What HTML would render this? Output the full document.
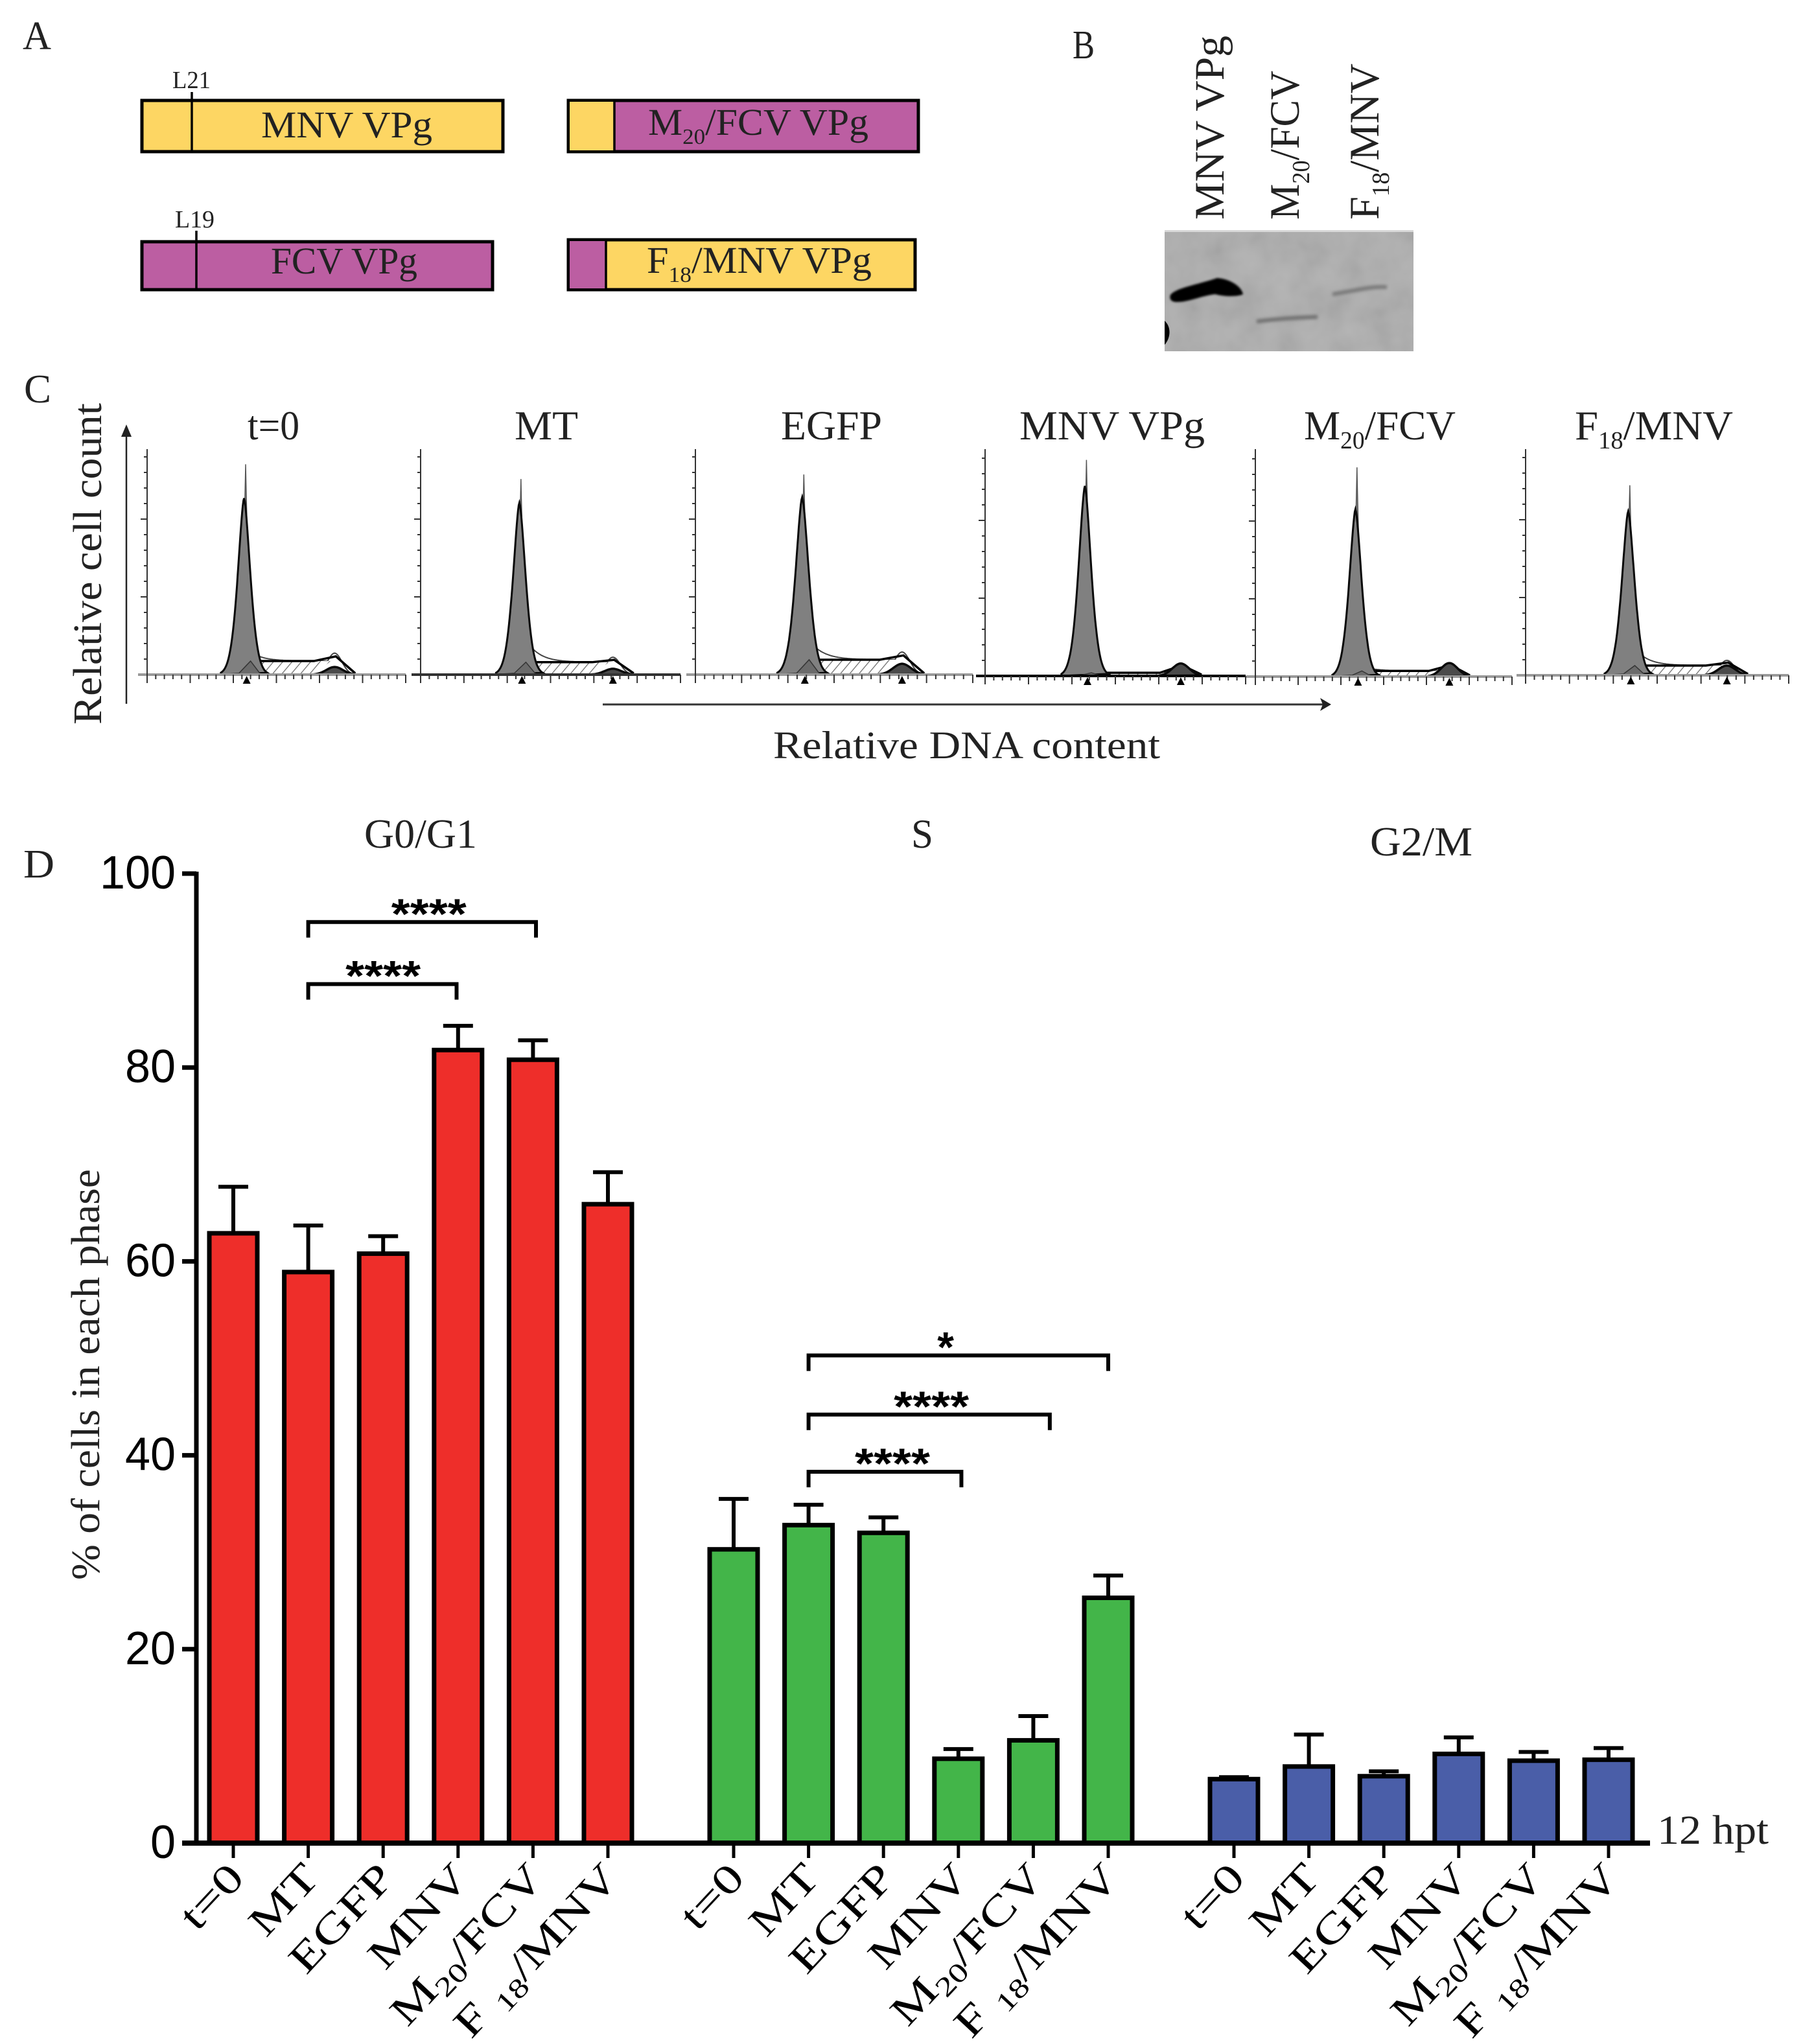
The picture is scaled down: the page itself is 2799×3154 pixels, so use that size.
<!DOCTYPE html>
<html lang="en">
<head>
<meta charset="utf-8">
<title>Multi-panel VPg figure</title>
<style>
html,body{margin:0;padding:0;background:#fff;}
svg{display:block;}
text{font-family:"Liberation Serif",serif;fill:#222;}
.sans{font-family:"Liberation Sans",sans-serif;fill:#000;}
</style>
</head>
<body>
<svg id="fig" xmlns="http://www.w3.org/2000/svg" width="2799" height="3154" viewBox="0 0 2799 3154">
<defs>
<pattern id="hatch" width="11" height="11" patternUnits="userSpaceOnUse" patternTransform="rotate(40)">
<rect width="11" height="11" fill="#fff"/>
<line x1="0" y1="0" x2="0" y2="11" stroke="#666" stroke-width="2.4"/>
</pattern>
<filter id="soft" x="-20%" y="-100%" width="140%" height="300%"><feGaussianBlur stdDeviation="2.5"/></filter>
<filter id="softer" x="-20%" y="-100%" width="140%" height="300%"><feGaussianBlur stdDeviation="1.5"/></filter>
<filter id="mottle" x="0" y="0" width="100%" height="100%">
<feTurbulence type="fractalNoise" baseFrequency="0.02" numOctaves="3" seed="4"/>
<feColorMatrix type="matrix" values="1 0 0 0 0 1 0 0 0 0 1 0 0 0 0 0 0 0 0 1"/>
</filter>
</defs>

<!-- Panel A -->
<g>
<text x="35" y="76" font-size="62" textLength="44" lengthAdjust="spacingAndGlyphs">A</text>
<g>
<rect x="219" y="155" width="557" height="79" fill="#FDD663" stroke="#000" stroke-width="5"/>
<line x1="296" y1="142" x2="296" y2="235" stroke="#000" stroke-width="3.5"/>
<text x="266" y="136" font-size="38" textLength="59" lengthAdjust="spacingAndGlyphs">L21</text>
<text x="403" y="212" font-size="58" textLength="264" lengthAdjust="spacingAndGlyphs">MNV VPg</text>
</g>
<g>
<rect x="877" y="155" width="540" height="79" fill="#BC5EA2" stroke="#000" stroke-width="5"/>
<rect x="879" y="157" width="69" height="75" fill="#FDD663"/>
<line x1="948" y1="154" x2="948" y2="235" stroke="#000" stroke-width="3.5"/>
<text x="1000" y="208" font-size="58" textLength="340" lengthAdjust="spacingAndGlyphs">M<tspan font-size="34" dy="14">20</tspan><tspan dy="-14">/FCV VPg</tspan></text>
</g>
<g>
<rect x="219" y="373" width="541" height="74" fill="#BC5EA2" stroke="#000" stroke-width="5"/>
<line x1="303" y1="356" x2="303" y2="447" stroke="#000" stroke-width="3.5"/>
<text x="270" y="351" font-size="38" textLength="61" lengthAdjust="spacingAndGlyphs">L19</text>
<text x="418" y="422" font-size="58" textLength="226" lengthAdjust="spacingAndGlyphs">FCV VPg</text>
</g>
<g>
<rect x="877" y="370" width="535" height="77" fill="#FDD663" stroke="#000" stroke-width="5"/>
<rect x="879" y="372" width="56" height="73" fill="#BC5EA2"/>
<line x1="935" y1="369" x2="935" y2="448" stroke="#000" stroke-width="3.5"/>
<text x="998" y="421" font-size="58" textLength="347" lengthAdjust="spacingAndGlyphs">F<tspan font-size="34" dy="14">18</tspan><tspan dy="-14">/MNV VPg</tspan></text>
</g>
</g>

<!-- Panel B -->
<g>
<text x="1655" y="90" font-size="62" textLength="34" lengthAdjust="spacingAndGlyphs">B</text>
<text transform="translate(1888,339) rotate(-90)" font-size="65" textLength="284" lengthAdjust="spacingAndGlyphs">MNV VPg</text>
<text transform="translate(2004,339) rotate(-90)" font-size="65" textLength="230" lengthAdjust="spacingAndGlyphs">M<tspan font-size="38" dy="16">20</tspan><tspan dy="-16">/FCV</tspan></text>
<text transform="translate(2127,339) rotate(-90)" font-size="65" textLength="241" lengthAdjust="spacingAndGlyphs">F<tspan font-size="38" dy="16">18</tspan><tspan dy="-16">/MNV</tspan></text>
<g>
<rect x="1797" y="355" width="384" height="187" fill="#adadad"/>
<rect x="1797" y="355" width="384" height="187" filter="url(#mottle)" opacity="0.12"/>
<rect x="1797" y="355" width="384" height="3" fill="#d8d8d8"/>
<path d="M1806 455 C1815 444 1845 440 1878 429 C1895 430 1915 440 1918 454 C1910 458 1890 458 1875 454 C1855 456 1835 466 1816 466 C1806 466 1804 460 1806 455Z" fill="#050505" filter="url(#softer)"/>
<path d="M1939 496 C1970 492 2000 490 2033 489" fill="none" stroke="#707070" stroke-width="6" filter="url(#soft)"/>
<path d="M2056 454 C2085 450 2115 441 2140 443" fill="none" stroke="#787878" stroke-width="6" filter="url(#soft)"/>
<path d="M1797 495 C1808 505 1806 522 1797 532Z" fill="#000"/>
</g>
</g>

<!-- Panel C static text -->
<g>
<text x="37" y="621" font-size="62" textLength="42" lengthAdjust="spacingAndGlyphs">C</text>
<text transform="translate(156,1118) rotate(-90)" font-size="62" textLength="496" lengthAdjust="spacingAndGlyphs">Relative cell count</text>
<g>
<line x1="195" y1="1086" x2="195" y2="665" stroke="#222" stroke-width="2.5"/>
<path d="M195 655 L187 674 L203 674Z" fill="#222"/>
</g>
<g>
<line x1="930" y1="1087" x2="2044" y2="1087" stroke="#333" stroke-width="3"/>
<path d="M2054 1087 L2037 1077 L2041 1087 L2037 1097Z" fill="#222"/>
</g>
<text x="1193" y="1170" font-size="60" textLength="597" lengthAdjust="spacingAndGlyphs">Relative DNA content</text>
<text x="382" y="678" font-size="64" textLength="80" lengthAdjust="spacingAndGlyphs">t=0</text>
<text x="794" y="678" font-size="64" textLength="98" lengthAdjust="spacingAndGlyphs">MT</text>
<text x="1205" y="678" font-size="64" textLength="156" lengthAdjust="spacingAndGlyphs">EGFP</text>
<text x="1573" y="678" font-size="64" textLength="286" lengthAdjust="spacingAndGlyphs">MNV VPg</text>
<text x="2012" y="678" font-size="64" textLength="234" lengthAdjust="spacingAndGlyphs">M<tspan font-size="38" dy="14">20</tspan><tspan dy="-14">/FCV</tspan></text>
<text x="2430" y="678" font-size="64" textLength="244" lengthAdjust="spacingAndGlyphs">F<tspan font-size="38" dy="14">18</tspan><tspan dy="-14">/MNV</tspan></text>
</g>
<g id="histograms"></g>

<!-- Panel D static text -->
<g>
<text x="36" y="1354" font-size="62" textLength="48" lengthAdjust="spacingAndGlyphs">D</text>
<text x="562" y="1308" font-size="64" textLength="174" lengthAdjust="spacingAndGlyphs">G0/G1</text>
<text x="1406" y="1308" font-size="64" textLength="34" lengthAdjust="spacingAndGlyphs">S</text>
<text x="2114" y="1320" font-size="64" textLength="158" lengthAdjust="spacingAndGlyphs">G2/M</text>
<text transform="translate(153,2438) rotate(-90)" font-size="62" textLength="634" lengthAdjust="spacingAndGlyphs">% of cells in each phase</text>
<text x="2557" y="2845" font-size="64" textLength="172" lengthAdjust="spacingAndGlyphs">12 hpt</text>
</g>
<g id="barchart"></g>
</svg>

<script>
// ---------- Panel C data (percent of histogram height / DNA channel) ----------
const histG1Channel = [37.5, 38, 38.5, 38.3, 39, 39];
const histG1Fitted = [78, 76, 78.5, 84, 74, 72.5];
const histG1Raw = [93, 86.5, 88.5, 95.5, 92.5, 84];
const histSPlateau = [6, 5.5, 6.6, 1.4, 2.5, 4.3];
const histShoulder = [9, 13, 13, 1.5, 4, 10];
const histG2Channel = [72.5, 74, 74.5, 75.1, 75.6, 76.5];
const histG2Fitted = [3.4, 2.6, 4.8, 5.5, 6, 4.3];
const histG2Raw = [9.5, 7.7, 10, 5.5, 6, 6.6];
const histNames = ['t0', 'mt', 'egfp', 'mnv-vpg', 'm20-fcv', 'f18-mnv'];

// ---------- Panel D data ----------
const categories = ['t=0', 'MT', 'EGFP', 'MNV', 'M20/FCV', 'F 18/MNV'];
const phases = ['g0-g1', 's', 'g2-m'];
const g0g1Values = [62.9, 58.9, 60.8, 81.8, 80.8, 65.9];
const g0g1ErrorTops = [67.7, 63.7, 62.6, 84.3, 82.8, 69.2];
const sValues = [30.3, 32.8, 32, 8.7, 10.6, 25.3];
const sErrorTops = [35.5, 34.9, 33.6, 9.7, 13.1, 27.6];
const g2mValues = [6.6, 7.9, 6.9, 9.2, 8.5, 8.6];
const g2mErrorTops = [6.8, 11.2, 7.4, 10.9, 9.4, 9.8];
const yTicks = [0, 20, 40, 60, 80, 100];
const bracketPhase = [0, 0, 1, 1, 1];
const bracketFrom = [1, 1, 1, 1, 1];
const bracketTo = [4.04, 2.98, 5, 4.22, 3.04];
const bracketLevel = [95, 88.6, 50.3, 44.2, 38.3];
const bracketStars = ['****', '****', '*', '****', '****'];
const bracketStarAt = [2.61, 2.0, 2.83, 2.64, 2.12];

const NS = 'http://www.w3.org/2000/svg';
function mk(parent, tag, attrs) {
  const el = document.createElementNS(NS, tag);
  for (const k in attrs) el.setAttribute(k, attrs[k]);
  parent.appendChild(el);
  return el;
}

// ---------- Histograms ----------
const histLayout = [
  {l: 227, r: 626, b: 1041, axis: '#999'}, {l: 649, r: 1050, b: 1041, axis: '#333'}, {l: 1073, r: 1501, b: 1041, axis: '#999'},
  {l: 1520, r: 1922, b: 1043, axis: '#000'}, {l: 1937, r: 2333, b: 1044, axis: '#999'}, {l: 2354, r: 2760, b: 1042, axis: '#999'}
];
const histRoot = document.getElementById('histograms');
function gauss(c, s, h, ch) { return h * Math.exp(-Math.pow(ch - c, 2) / (2 * s * s)); }
function peakShape(c, h, ch) { return h * Math.exp(-Math.pow(Math.abs(ch - c) / 3.5, 1.6)); }
histNames.forEach(function (name, i) {
  const f = histLayout[i];
  const xS = function (ch) { return f.l + (f.r - f.l) * ch / 100; };
  const yS = function (v) { return f.b - 349 * v / 100; };
  const g = mk(histRoot, 'g', {});
  
  

  const c1 = histG1Channel[i], c2 = histG2Channel[i];
  const sTop = yS(histSPlateau[i]);

  // tapered raw spike above the fitted G1 peak
  let ds = 'M' + xS(c1 - 4) + ' ' + f.b;
  for (let ch = c1 - 4; ch <= c1 + 4; ch += 0.1) {
    ds += ' L' + xS(ch).toFixed(1) + ' ' + yS(histG1Raw[i] * Math.exp(-Math.abs(ch - c1 - 0.6) / 1.6)).toFixed(1);
  }
  ds += 'Z';
  const spike = mk(g, 'path', {d: ds, fill: '#8a8a8a', stroke: '#555', 'stroke-width': 1.5});
  
  

  // raw trace over S and G2
  let dr = '';
  for (let ch = c1 + 3; ch <= 100; ch += 0.25) {
    const decay = (histShoulder[i] - histSPlateau[i]) * Math.exp(-(ch - c1 - 4) / 5);
    const body = (ch < c2) ? histSPlateau[i] + Math.max(0, Math.min(decay, histShoulder[i])) : 0;
    const v = Math.max(body, gauss(c2, 2.8, histG2Raw[i], ch), 0.3);
    dr += (dr ? ' L' : 'M') + xS(ch).toFixed(1) + ' ' + yS(v).toFixed(1);
  }
  const raw = mk(g, 'path', {d: dr, fill: 'none', stroke: '#444', 'stroke-width': 2});
  
  

  // S phase hatched area
  const sArea = mk(g, 'path', {
    d: 'M' + xS(c1 + 3) + ' ' + f.b + ' L' + xS(c1 + 3) + ' ' + sTop + ' L' + xS(c2 - 1.5) + ' ' + sTop + ' L' + xS(c2 - 8) + ' ' + f.b + 'Z',
    fill: 'url(#hatch)'
  });
  
  

  // fitted envelope: plateau rising over the G2 peak
  const envPeak = Math.max(histSPlateau[i], histG2Raw[i] * 0.85);
  const env = mk(g, 'path', {
    d: 'M' + xS(c1 + 1) + ' ' + sTop + ' L' + xS(c2 - 8) + ' ' + sTop + ' L' + xS(c2 + 0.5) + ' ' + yS(envPeak) + ' L' + xS(c2 + 8) + ' ' + (f.b - 2),
    fill: 'none', stroke: '#000', 'stroke-width': 3.5
  });
  
  

  // G1 fitted peak
  let d = 'M' + xS(c1 - 9) + ' ' + f.b;
  for (let ch = c1 - 9; ch <= c1 + 9; ch += 0.25) {
    d += ' L' + xS(ch).toFixed(1) + ' ' + yS(peakShape(c1, histG1Fitted[i], ch)).toFixed(1);
  }
  d += 'Z';
  const g1 = mk(g, 'path', {d: d, fill: '#808080', stroke: '#0a0a0a', 'stroke-width': 3});
  
  

  // overlap wedge
  const wedge = mk(g, 'path', {
    d: 'M' + xS(c1 - 2.5) + ' ' + f.b + ' L' + xS(c1 + 2.5) + ' ' + sTop + ' L' + xS(c1 + 6.5) + ' ' + f.b + 'Z',
    fill: '#6b6b6b', stroke: '#333', 'stroke-width': 1.5
  });
  
  

  // G2 fitted peak
  let d2 = 'M' + xS(c2 - 8) + ' ' + f.b;
  for (let ch = c2 - 8; ch <= c2 + 8; ch += 0.5) {
    d2 += ' L' + xS(ch).toFixed(1) + ' ' + yS(gauss(c2, 3.2, histG2Fitted[i], ch)).toFixed(1);
  }
  d2 += 'Z';
  const g2 = mk(g, 'path', {d: d2, fill: '#4b4b4b', stroke: '#0a0a0a', 'stroke-width': 3.5});
  
  

  // axes
  const xAxis = mk(g, 'line', {x1: f.l - 14, x2: f.r, y1: f.b, y2: f.b, stroke: f.axis, 'stroke-width': 4});
  
  
  const yAxis = mk(g, 'line', {x1: f.l, x2: f.l, y1: 693, y2: f.b + 13, stroke: '#333', 'stroke-width': 2});
  
  
  const ticks = mk(g, 'g', {stroke: '#333', 'stroke-width': 2});
  
  
  for (let t = 0; t <= 30; t++) {
    const x = f.l + (f.r - f.l) * t / 30;
    mk(ticks, 'line', {x1: x, x2: x, y1: f.b, y2: f.b + (t % 5 === 0 ? 13 : 7)});
  }
  for (let t = 1; t <= 14; t++) {
    const y = f.b - 24 * t;
    mk(ticks, 'line', {x1: f.l - (t % 5 === 0 ? 10 : 5), x2: f.l, y1: y, y2: y});
  }
  // markers
  const g1Marker = mk(g, 'path', {d: 'M' + (xS(c1) + 4) + ' ' + (f.b + 2) + ' l-6 12 l12 0Z', fill: '#000'});
  
  
  if (i > 0) {
    const g2Marker = mk(g, 'path', {d: 'M' + xS(c2) + ' ' + (f.b + 2) + ' l-6 12 l12 0Z', fill: '#000'});
    
    
  }
});

// ---------- Bar chart ----------
const barRoot = document.getElementById('barchart');
const yZero = 2844, yFull = 1348;
function yVal(v) { return yZero - (yZero - yFull) * v / 100; }
function xBar(group, bar) { return 360 + 772 * group + 115.6 * bar; }
const allValues = [g0g1Values, sValues, g2mValues];
const allErrors = [g0g1ErrorTops, sErrorTops, g2mErrorTops];
const phaseColors = ['#EE2E2A', '#43B549', '#4A5EA8'];

allValues.forEach(function (vals, p) {
  vals.forEach(function (v, b) {
    const x = xBar(p, b);
    const er = mk(barRoot, 'path', {
      d: 'M' + x + ' ' + yVal(v) + ' V' + yVal(allErrors[p][b]) + ' M' + (x - 23) + ' ' + yVal(allErrors[p][b]) + ' H' + (x + 23),
      fill: 'none', stroke: '#000', 'stroke-width': 6
    });
    
    
    const r = mk(barRoot, 'rect', {
      x: x - 37, y: yVal(v), width: 74, height: yZero - yVal(v),
      fill: phaseColors[p], stroke: '#000', 'stroke-width': 7
    });
    
    

    const tk = mk(barRoot, 'line', {x1: x, x2: x, y1: yZero, y2: yZero + 23, stroke: '#000', 'stroke-width': 5});
    
    

    const lab = mk(barRoot, 'text', {
      transform: 'translate(' + (x + 20) + ',' + (yZero + 56) + ') rotate(-47) scale(1.3,1)',
      'text-anchor': 'end', 'font-size': 64, style: 'fill:#000'
    });
    
    
    const parts = categories[b].match(/^(M|F )(\d+)(.*)$/);
    if (parts) {
      const a = mk(lab, 'tspan', {});
      a.textContent = parts[1];
      const s = mk(lab, 'tspan', {'font-size': 42, dy: 13});
      s.textContent = parts[2];
      const c = mk(lab, 'tspan', {dy: -13});
      c.textContent = parts[3];
    } else {
      lab.textContent = categories[b];
    }
  });
});

const yAxisLine = mk(barRoot, 'line', {x1: 303, x2: 303, y1: yFull - 3, y2: yZero, stroke: '#000', 'stroke-width': 7});


const xAxisLine = mk(barRoot, 'line', {x1: 281, x2: 2546, y1: yZero, y2: yZero, stroke: '#000', 'stroke-width': 8});



yTicks.forEach(function (t) {
  const y = yVal(t);
  const tk = mk(barRoot, 'line', {x1: 281, x2: 303, y1: y, y2: y, stroke: '#000', 'stroke-width': 7});
  
  
  const lab = mk(barRoot, 'text', {
    x: 271, y: y + 23, 'text-anchor': 'end', 'font-size': 72, class: 'sans',
    textLength: String(t).length * 39, lengthAdjust: 'spacingAndGlyphs'
  });
  
  
  lab.textContent = t;
});

bracketLevel.forEach(function (lvl, i) {
  const y = yVal(lvl);
  const x1 = xBar(bracketPhase[i], bracketFrom[i]);
  const x2 = xBar(bracketPhase[i], bracketTo[i]);
  const br = mk(barRoot, 'path', {
    d: 'M' + x1 + ' ' + (y + 24) + ' V' + y + ' H' + x2 + ' V' + (y + 24),
    fill: 'none', stroke: '#000', 'stroke-width': 6
  });
  
  
  const starAttrs = {
    x: xBar(bracketPhase[i], bracketStarAt[i]), y: y + 10,
    'text-anchor': 'middle', 'font-size': 66, 'font-weight': 'bold', class: 'sans'
  };
  if (bracketStars[i].length > 1) {
    starAttrs.textLength = 116;
    starAttrs.lengthAdjust = 'spacingAndGlyphs';
  }
  const st = mk(barRoot, 'text', starAttrs);
  
  
  st.textContent = bracketStars[i];
});
</script>
</body>
</html>
